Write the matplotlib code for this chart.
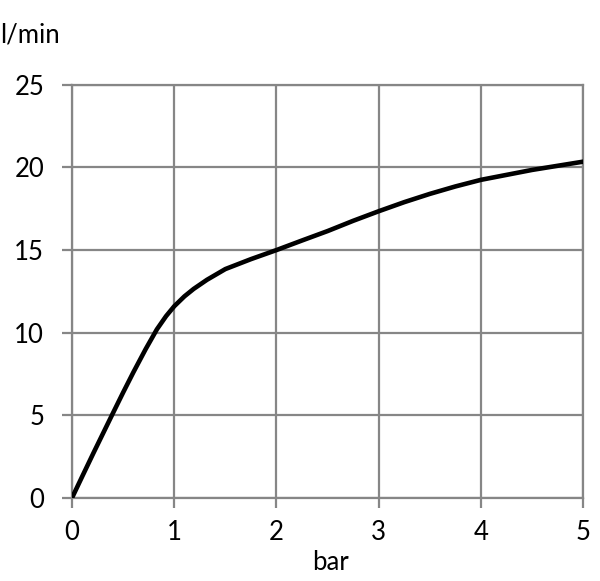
import matplotlib
matplotlib.use("Agg")
import matplotlib.pyplot as plt

# flow vs pressure
pressure_bar = [0, 0.1, 0.21, 0.39, 0.5, 0.6, 0.72, 0.83, 0.92, 1.0, 1.1, 1.19, 1.32, 1.5, 1.75, 2.0,
                2.25, 2.5, 2.75, 3.0, 3.25, 3.5, 3.75, 4.0, 4.5, 5.0]
flow_lpm = [0, 1.3, 2.72, 5.0, 6.38, 7.6, 9.0, 10.2, 11.0, 11.6, 12.2, 12.65, 13.2, 13.85, 14.45, 15.0,
            15.58, 16.15, 16.77, 17.35, 17.9, 18.4, 18.85, 19.25, 19.85, 20.35]
x_ticks = [0, 1, 2, 3, 4, 5]
y_ticks = [0, 5, 10, 15, 20, 25]

plt.rcParams["font.family"] = ["Lato", "DejaVu Sans"]

fig = plt.figure(figsize=(6, 5.81), dpi=100)
ax = fig.add_axes([0.12, 0.143, 0.852, 0.711])

grid_c = "#868686"
ax.plot(pressure_bar, flow_lpm, color="black", lw=3.3, solid_capstyle="round",
        solid_joinstyle="round", zorder=3)
ax.set_xlim(0, 5)
ax.set_ylim(0, 25)
ax.set_xticks(x_ticks)
ax.set_yticks(y_ticks)
ax.grid(True, color=grid_c, lw=1.6)
for s in ax.spines.values():
    s.set_color(grid_c)
    s.set_linewidth(1.6)
ax.tick_params(axis="both", colors=grid_c, length=7, width=1.6, labelsize=18.5,
               labelcolor="black")
ax.tick_params(axis="x", pad=9)
ax.tick_params(axis="y", pad=13)

fig.text(0.0, 0.94, "l/min", fontsize=18.5, ha="left", va="center")
fig.text(0.55, 0.031, "bar", fontsize=18.5, ha="center", va="center")

fig.savefig("out.png", dpi=100)
